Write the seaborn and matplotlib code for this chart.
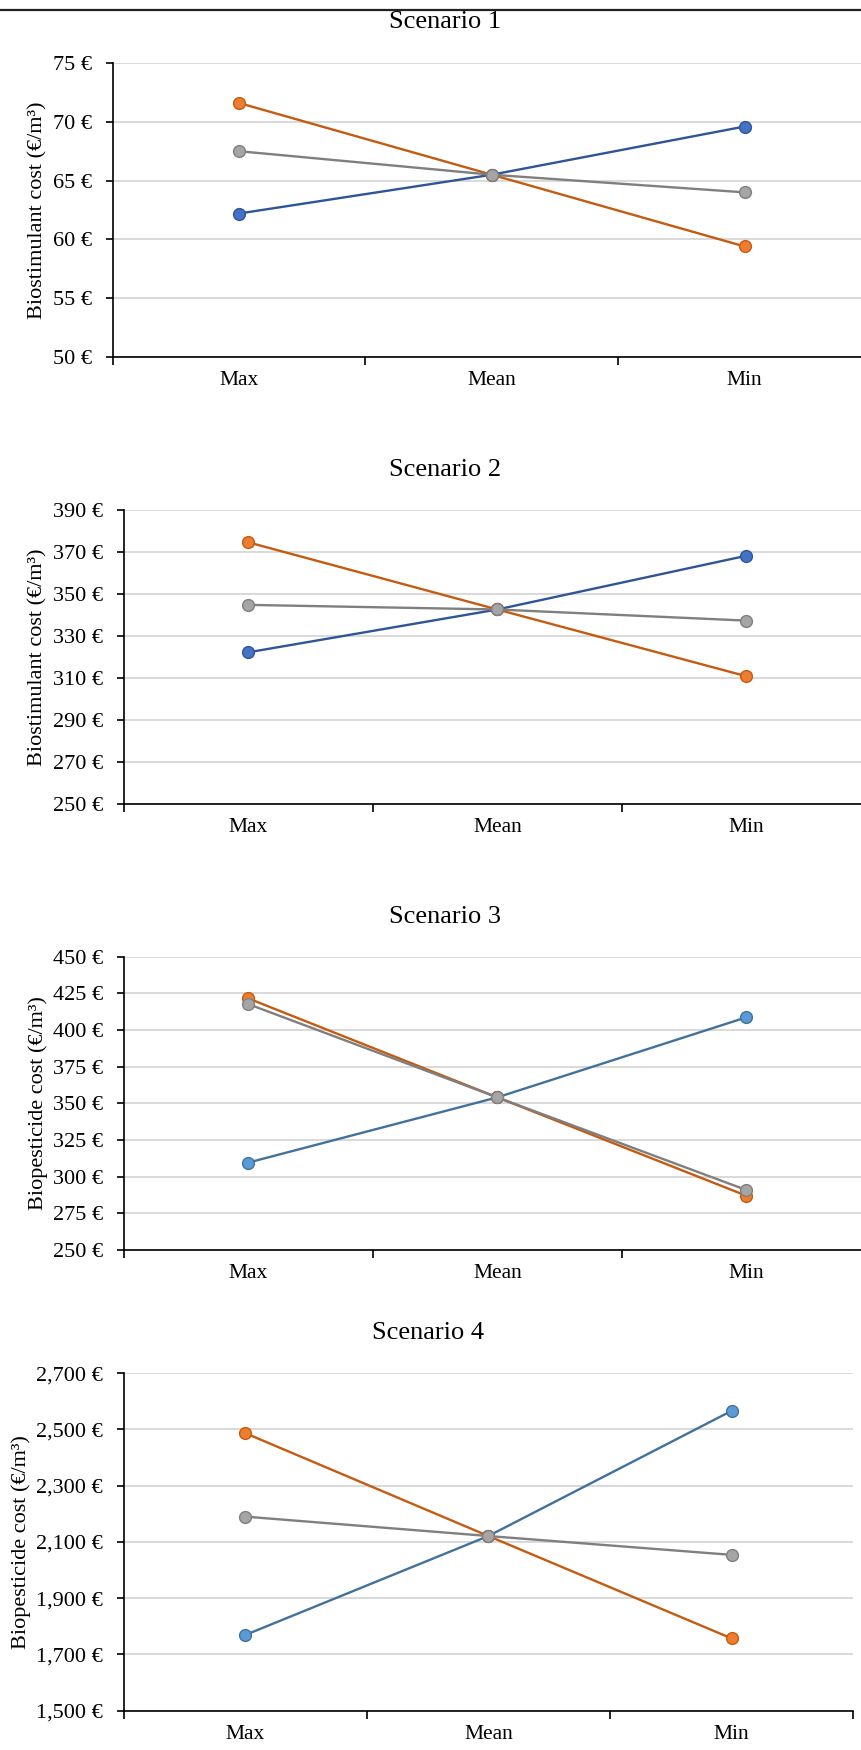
import numpy as np
import pandas as pd
import matplotlib
matplotlib.use('Agg')
import matplotlib.pyplot as plt
from matplotlib.lines import Line2D
from matplotlib.ticker import FuncFormatter, FixedLocator
import seaborn as sns

sns.set_style('white')
plt.rcParams['font.family'] = ['Liberation Serif', 'DejaVu Serif']
plt.rcParams['text.color'] = 'black'

# Data
categories = ['Max', 'Mean', 'Min']
titles = ['Scenario 1', 'Scenario 2', 'Scenario 3', 'Scenario 4']
ylabels = ['Biostimulant cost (€/m³)', 'Biostimulant cost (€/m³)',
           'Biopesticide cost (€/m³)', 'Biopesticide cost (€/m³)']

s1_blue = [62.2, 65.5, 69.6]
s1_orange = [71.6, 65.5, 59.4]
s1_gray = [67.5, 65.5, 64.0]

s2_blue = [322.2, 342.6, 368.2]
s2_orange = [374.6, 342.6, 310.8]
s2_gray = [344.8, 342.6, 337.3]

s3_blue = [309.6, 354.1, 408.7]
s3_orange = [421.6, 354.1, 287.0]
s3_gray = [417.7, 354.1, 290.9]

s4_blue = [1769, 2121, 2566]
s4_orange = [2487, 2121, 1757]
s4_gray = [2190, 2121, 2054]

y_limits = [(50, 75), (250, 390), (250, 450), (1500, 2700)]
y_steps = [5, 20, 25, 200]

# (face, edge/line) colours
blue_dark = ('#4472C4', '#2F5597')
blue_light = ('#5B9BD5', '#41719C')
orange = ('#ED7D31', '#C55A11')
gray = ('#A5A5A5', '#7F7F7F')

panels = [
    (s1_blue, s1_orange, s1_gray, blue_dark),
    (s2_blue, s2_orange, s2_gray, blue_dark),
    (s3_blue, s3_orange, s3_gray, blue_light),
    (s4_blue, s4_orange, s4_gray, blue_light),
]

# axes rectangles in figure fraction [left, bottom, width, height]
rects = [
    [0.1308, 0.7960, 0.8808, 0.1680],
    [0.1436, 0.5406, 0.8680, 0.1680],
    [0.1436, 0.2857, 0.8680, 0.1676],
    [0.1436, 0.0225, 0.8472, 0.1928],
]
title_pos = [(445, 22), (445, 470), (445, 917), (428, 1333)]
ylabel_x = [38, 38, 38, 21]

W, H = 861, 1750
fig = plt.figure(figsize=(W / 100, H / 100), dpi=100)
fig.patch.set_facecolor('white')

# thin rule at the top
fig.add_artist(Line2D([0, 1], [1 - 10 / H, 1 - 10 / H], color='#222222', lw=1.6))

for i, (blue, orng, gry, bcol) in enumerate(panels):
    ax = fig.add_axes(rects[i])
    df = pd.DataFrame({'cat': categories, 'blue': blue, 'orange': orng, 'gray': gry})
    df['x'] = np.arange(len(categories))
    for col, (face, edge) in [('blue', bcol), ('orange', orange), ('gray', gray)]:
        sns.lineplot(data=df, x='x', y=col, ax=ax, color=edge, lw=1.7,
                     marker='o', markersize=8.5, markerfacecolor=face,
                     markeredgecolor=edge, markeredgewidth=1.0, zorder=3)

    lo, hi = y_limits[i]
    ax.set_ylim(lo, hi)
    ax.set_xlim(-0.5, 2.5)
    ax.yaxis.set_major_locator(FixedLocator(np.arange(lo, hi + 0.1, y_steps[i])))
    ax.yaxis.set_major_formatter(FuncFormatter(lambda v, p: f'{v:,.0f} €'))
    ax.set_xticks(range(len(categories)))
    ax.set_xticklabels(categories)
    ax.set_xticks([-0.5, 0.5, 1.5, 2.5], minor=True)
    ax.tick_params(axis='x', which='both', bottom=True)
    ax.tick_params(axis='y', which='both', left=True)
    ax.tick_params(axis='x', which='major', length=0, pad=10, labelsize=15.5,
                   labelcolor='black')
    ax.tick_params(axis='x', which='minor', length=6, width=1.2, color='black',
                   direction='out')
    ax.tick_params(axis='y', which='major', length=5, width=1.2, color='black',
                   direction='out', pad=10, labelsize=16, labelcolor='black')
    ax.yaxis.grid(True, color='#D9D9D9', lw=1.4)
    ax.set_axisbelow(True)
    for sp in ['top', 'right']:
        ax.spines[sp].set_visible(False)
    for sp in ['left', 'bottom']:
        ax.spines[sp].set_color('black')
        ax.spines[sp].set_linewidth(1.2)
    ax.set_xlabel('')
    ax.set_ylabel('')

    fig.text(ylabel_x[i] / W, rects[i][1] + rects[i][3] / 2, ylabels[i],
             rotation=90, ha='center', va='center', fontsize=16)
    tx, ty = title_pos[i]
    fig.text(tx / W, 1 - ty / H, titles[i], ha='center', va='center', fontsize=19)

fig.savefig('out.png', dpi=100, facecolor='white')
